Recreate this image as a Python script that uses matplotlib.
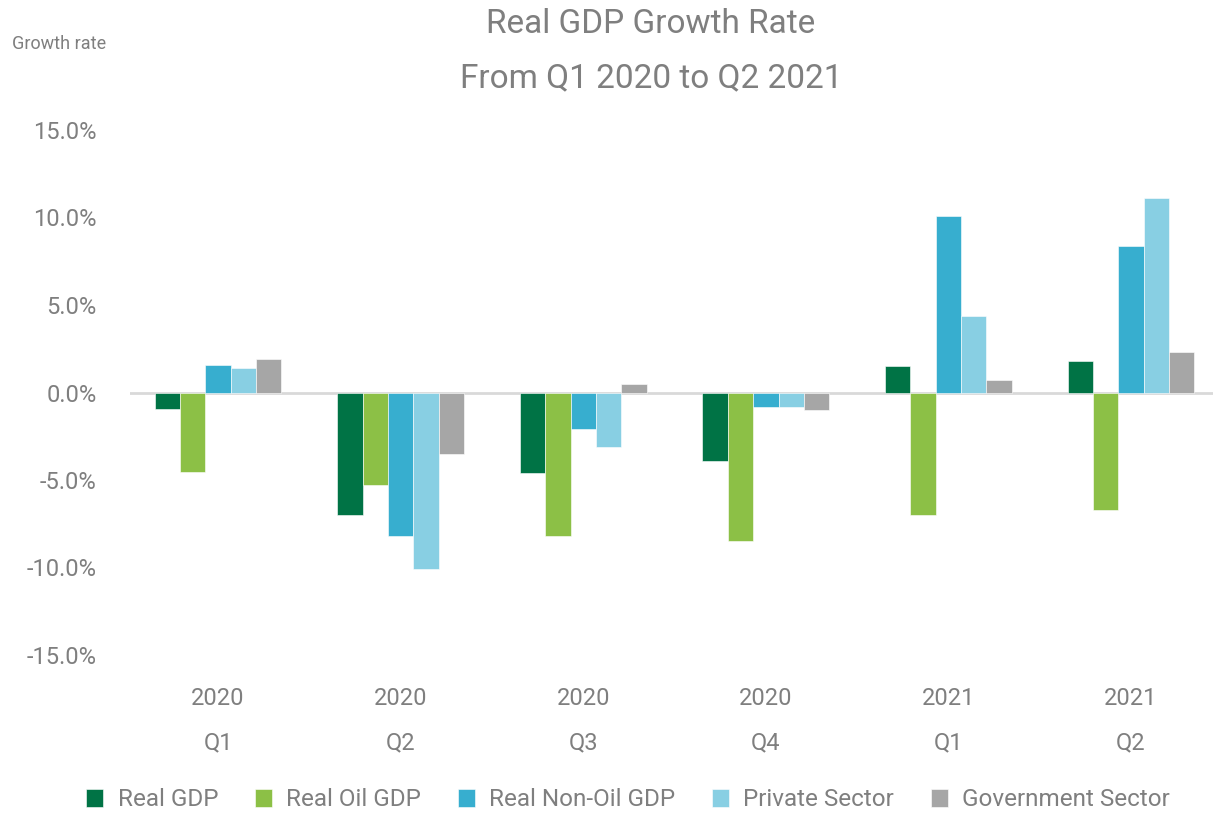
import numpy as np
import matplotlib
matplotlib.use("Agg")
import matplotlib.pyplot as plt

plt.rcParams["font.family"] = ["Roboto", "DejaVu Sans"]

quarters = ["2020\nQ1", "2020\nQ2", "2020\nQ3", "2020\nQ4", "2021\nQ1", "2021\nQ2"]
real_gdp = [-0.95, -7.0, -4.6, -3.9, 1.5, 1.8]
real_oil_gdp = [-4.55, -5.3, -8.2, -8.5, -7.0, -6.7]
real_non_oil_gdp = [1.6, -8.2, -2.1, -0.8, 10.1, 8.4]
private_sector = [1.4, -10.1, -3.1, -0.8, 4.4, 11.1]
government_sector = [1.9, -3.5, 0.5, -1.0, 0.7, 2.3]

series = {
    "Real GDP": real_gdp,
    "Real Oil GDP": real_oil_gdp,
    "Real Non-Oil GDP": real_non_oil_gdp,
    "Private Sector": private_sector,
    "Government Sector": government_sector,
}
colors = ["#007345", "#8cc046", "#37aecf", "#88cfe3", "#a6a6a6"]
text_grey = "#7f7f7f"

fig = plt.figure(figsize=(12.15, 8.16), dpi=100)
ax = fig.add_axes([130 / 1215, 1 - 655 / 816, (1213 - 130) / 1215, (655 - 130) / 816])

x = np.arange(len(quarters))
width = 0.139
for i, (name, vals) in enumerate(series.items()):
    offset = (i - 2) * width
    ax.bar(x + offset, vals, width, color=colors[i], label=name,
           edgecolor="white", linewidth=0.4, zorder=2)

ax.axhline(0, color="#d9d9d9", linewidth=2, zorder=1)

ax.set_ylim(-15, 15)
ax.set_xlim(-0.482, 5.449)
ax.set_yticks([-15, -10, -5, 0, 5, 10, 15])
ax.set_yticklabels([f"{v:.1f}%" for v in ax.get_yticks()])
ax.set_xticks(x)
ax.set_xticklabels(quarters, linespacing=2.2)
ax.tick_params(axis="both", length=0, labelsize=17, colors=text_grey)
ax.tick_params(axis="y", pad=24)
ax.tick_params(axis="x", pad=23)
for s in ax.spines.values():
    s.set_visible(False)

fig.text(651 / 1215, 1 - 24 / 816, "Real GDP Growth Rate", ha="center", va="center",
         fontsize=24, color=text_grey)
fig.text(651 / 1215, 1 - 78 / 816, "From Q1 2020 to Q2 2021", ha="center", va="center",
         fontsize=24, color=text_grey)
fig.text(12 / 1215, 1 - 44 / 816, "Growth rate", ha="left", va="center",
         fontsize=13, color=text_grey)

leg = fig.legend(loc="center", bbox_to_anchor=(628 / 1215, 1 - 800 / 816), ncol=5,
                 frameon=False, fontsize=17.5, handlelength=0.7, handleheight=0.7,
                 handletextpad=0.6, columnspacing=1.5)
for t in leg.get_texts():
    t.set_color(text_grey)

fig.savefig("out.png", dpi=100)
